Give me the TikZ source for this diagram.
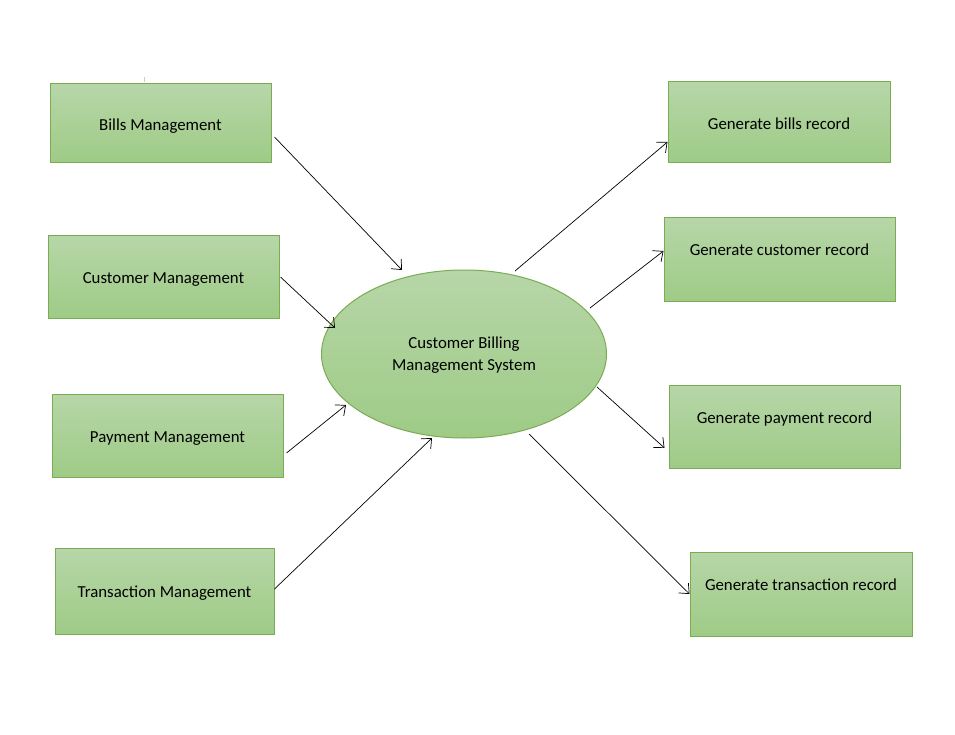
\documentclass[tikz,border=0pt]{standalone}
\usepackage{fontspec}
\setmainfont{Carlito}
\usetikzlibrary{shapes.geometric,arrows.meta,calc}
\definecolor{gtop}{RGB}{183,214,168}
\definecolor{gbot}{RGB}{158,203,134}
\definecolor{gborder}{RGB}{122,172,84}
\tikzset{
  box/.style={draw=gborder, line width=1pt, top color=gtop, bottom color=gbot,
    minimum width=#1, inner sep=0pt, font=\fontsize{16.8}{20}\selectfont,
    text height=13.5pt, text depth=0pt},
  raised/.style={text depth=20.5pt},
  sys/.style={ellipse, draw=gborder, line width=1pt, top color=gtop, bottom color=gbot,
    minimum width=285pt, minimum height=168pt, inner sep=0pt, align=center,
    font=\fontsize{16.8}{22}\selectfont, text depth=0pt},
  arr/.style={line width=0.7pt, -{Straight Barb[length=8pt,width=14pt]}}
}
\begin{document}
\begin{tikzpicture}[x=1pt,y=-1pt]
\useasboundingbox (0,0) rectangle (955,735);
% left boxes
\node[box=221pt, minimum height=79pt] (b1) at (160.5,123.5) {Bills Management};
\node[box=231pt, minimum height=82pt] (b2) at (163.5,277) {Customer Management};
\node[box=231pt, minimum height=83pt] (b3) at (167.5,435.5) {Payment Management};
\node[box=219pt, minimum height=86pt] (b4) at (164.5,591) {Transaction Management};
% right boxes
\node[box=222pt, minimum height=81pt] (r1) at (779,122.5) {Generate bills record};
\node[box=231pt, minimum height=83pt, raised] (r2) at (779.5,259.5) {Generate customer record};
\node[box=231pt, minimum height=83pt, raised] (r3) at (784.5,426.5) {Generate payment record};
\node[box=222pt, minimum height=84pt, raised] (r4) at (801,594) {Generate transaction record};
% central system
\node[sys] (cs) at (464,354) {Customer Billing\\Management System};
% stray tick
\draw[gray!40, line width=0.6pt] ($(b1.north west)+(95,-6)$) -- ($(b1.north west)+(95,-1)$);
% incoming
\draw[arr] ($(b1.east)+(3,13.5)$) -- ($(cs.center)+(-62,-84)$);
\draw[arr] ($(b2.east)+(1,0)$) -- ($(cs.center)+(-129,-26)$);
\draw[arr] ($(b3.east)+(3,17.5)$) -- ($(cs.center)+(-118,51)$);
\draw[arr] ($(b4.east)+(0,-2)$) -- ($(cs.center)+(-32,84)$);
% outgoing
\draw[arr] ($(cs.center)+(51,-83)$) -- ($(r1.west)+(0,19.5)$);
\draw[arr] ($(cs.center)+(126,-46)$) -- ($(r2.west)+(0,-8.5)$);
\draw[arr] ($(cs.center)+(133,33)$) -- ($(r3.west)+(-4,21.5)$);
\draw[arr] ($(cs.center)+(65,80)$) -- ($(r4.west)+(0,0)$);
\end{tikzpicture}
\end{document}
